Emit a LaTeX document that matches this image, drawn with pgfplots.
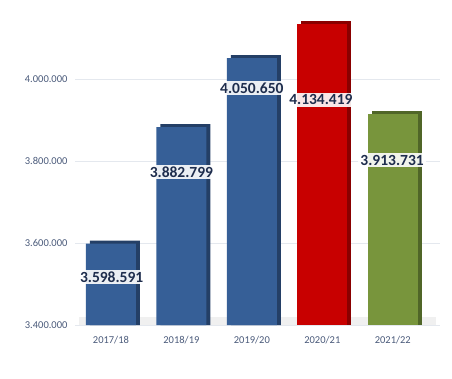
\documentclass[border=0pt]{standalone}
\usepackage{pgfplots}
\pgfplotsset{compat=1.18}
\usepackage{fontspec}
\setmainfont{Carlito}
\definecolor{cblue}{HTML}{365F97}
\definecolor{cblued}{HTML}{243F66}
\definecolor{cred}{HTML}{C80000}
\definecolor{credd}{HTML}{8A0000}
\definecolor{cgreen}{HTML}{78953C}
\definecolor{cgreend}{HTML}{506628}
\definecolor{ctick}{HTML}{4A5A7A}
\definecolor{cnavy}{HTML}{1E2D4D}
\definecolor{cgrid}{HTML}{E4E8EE}
\begin{document}
\begin{tikzpicture}
\path[use as bounding box] (0,0) rectangle (452pt,378pt);
\begin{axis}[
  at={(75pt,53pt)}, anchor=south west,
  scale only axis, width=365pt, height=319.8pt,
  xmin=-0.51, xmax=4.67, ymin=3400000, ymax=4180000,
  axis line style={draw=none},
  ytick={3400000,3600000,3800000,4000000},
  yticklabels={3.400.000,3.600.000,3.800.000,4.000.000},
  yticklabel style={font=\fontsize{10.5}{12}\selectfont, text=ctick, xshift=-4pt},
  xtick={0,1,2,3,4},
  xticklabels={2017/18,2018/19,2019/20,2020/21,2021/22},
  xticklabel style={font=\fontsize{10.5}{12}\selectfont, text=ctick, yshift=-8pt},
  major tick length=0pt,
  ymajorgrids, grid style={cgrid, line width=1pt},
  clip=false,
]
% floor shadow
\addplot[ybar, bar width=357pt, fill=gray!12, draw=none, bar shift=0pt] coordinates {(2.08,3420000)};
% back/side faces
\addplot[ybar, bar width=50pt, bar shift=4pt, fill=cblued, draw=none] coordinates {(0,3605900) (1,3890100) (2,4057950)};
\addplot[ybar, bar width=50pt, bar shift=4pt, fill=credd, draw=none] coordinates {(3,4141700)};
\addplot[ybar, bar width=50pt, bar shift=4pt, fill=cgreend, draw=none] coordinates {(4,3921000)};
% front faces
\addplot[ybar, bar width=50pt, bar shift=0pt, fill=cblue, draw=none] coordinates {(0,3598591) (1,3882799) (2,4050650)};
\addplot[ybar, bar width=50pt, bar shift=0pt, fill=cred, draw=none] coordinates {(3,4134419)};
\addplot[ybar, bar width=50pt, bar shift=0pt, fill=cgreen, draw=none] coordinates {(4,3913731)};
% value labels
\addplot[only marks, mark=none, nodes near coords, point meta=explicit symbolic,
  every node near coord/.style={anchor=center, fill=white, fill opacity=0.9, text opacity=1,
  inner sep=2pt, text=cnavy, font=\fontsize{15.5}{16}\selectfont\bfseries}]
  table[meta=label] {
x y label
0.01 3517000 3.598.591
1.0 3773000 3.882.799
2.0 3978000 4.050.650
2.98 3949000 4.134.419
3.99 3802000 3.913.731
};
\end{axis}
\end{tikzpicture}
\end{document}
